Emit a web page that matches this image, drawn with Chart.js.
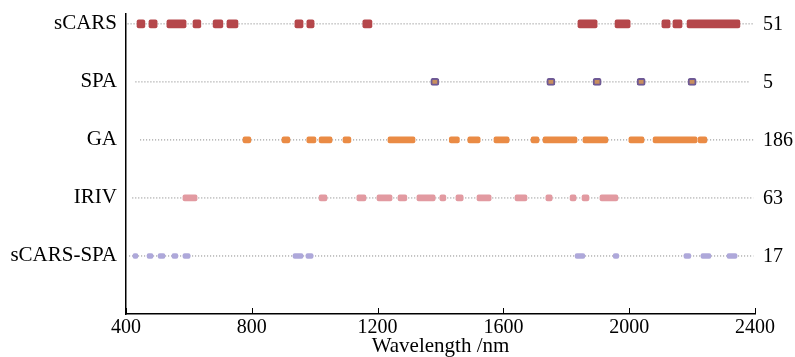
<!DOCTYPE html>
<html>
<head>
<meta charset="utf-8">
<script src="https://cdn.jsdelivr.net/npm/chart.js@4.4.1/dist/chart.umd.min.js"></script>
<style>
  html, body { margin: 0; padding: 0; background: #fff; }
  #wrap { width: 795px; height: 357px; }
</style>
</head>
<body>
<div id="wrap"><canvas id="chSel"></canvas></div>
<script>
// Selected wavelength bands per method (nm)
const methodNames = ['sCARS', 'SPA', 'GA', 'IRIV', 'sCARS-SPA'];
const rowValues = [5, 4, 3, 2, 1];
const counts = [51, 5, 186, 63, 17];

const bandsSCARS = [[435,460],[473,499],[530,591],[613,638],[677,708],[721,756],[937,963],[975,998],
    [1153,1182],[1837,1898],[1955,2003],[2104,2130],[2139,2168],[2184,2352]];
const bandsSPA = [[1369,1395],[1738,1764],[1885,1911],[2025,2051],[2187,2213]];
const bandsGA = [[772,797],[896,921],[975,1004],[1014,1055],[1090,1115],[1233,1319],[1428,1460],
    [1487,1526],[1570,1618],[1688,1713],[1726,1834],[1853,1932],[1999,2047],[2076,2216],[2219,2247]];
const bandsIRIV = [[581,626],[1014,1039],[1134,1163],[1198,1246],[1265,1293],[1325,1383],[1398,1417],
    [1449,1472],[1516,1561],[1637,1675],[1735,1755],[1812,1831],[1850,1872],[1907,1964]];
const bandsSCARSSPA = [[422,438],[467,486],[502,524],[546,565],[581,604],[931,963],[972,995],
    [1828,1859],[1949,1967],[2174,2196],[2228,2260],[2311,2343]];

// dotted baseline span for each row (nm)
const baseStart = [405, 430, 445, 420, 410];
const baseEnd = [2395, 2380, 2395, 2395, 2395];

const xTicks = [400, 800, 1200, 1600, 2000, 2400];

const allBands = [bandsSCARS, bandsSPA, bandsGA, bandsIRIV, bandsSCARSSPA];
const fillColors = ['#b5474b', '#c98f5e', '#ea8b45', '#e29aa1', '#aea8da'];
const edgeColors = ['#b5474b', '#6f5a95', '#ea8b45', '#e29aa1', '#aea8da'];
const edgeWidths = [0, 2, 0, 0, 0];
const thick = [8, 7, 6, 6, 5];

const FONT = "'Liberation Serif', 'Times New Roman', serif";

const datasets = [];
allBands.forEach((bands, i) => {
    datasets.push({
        type: 'bar',
        indexAxis: 'y',
        grouped: false,
        order: 0,
        data: bands.map(b => ({ x: b, y: rowValues[i] })),
        backgroundColor: fillColors[i],
        borderColor: edgeColors[i],
        borderWidth: edgeWidths[i],
        borderSkipped: false,
        borderRadius: 2,
        barThickness: thick[i]
    });
    datasets.push({
        type: 'line',
        order: 1,
        data: [{ x: baseStart[i], y: rowValues[i] }, { x: baseEnd[i], y: rowValues[i] }],
        borderColor: '#7a7a7a',
        borderWidth: 1,
        borderDash: [1, 2],
        pointRadius: 0,
        fill: false
    });
});

// small tick marks pointing into the plot, plus the counts on the right
const extrasPlugin = {
    id: 'extras',
    afterDraw(chart) {
        const ctx = chart.ctx;
        const xs = chart.scales.x, ys = chart.scales.y;
        const area = chart.chartArea;
        ctx.save();
        ctx.strokeStyle = '#000';
        ctx.lineWidth = 1;
        xs.ticks.forEach(t => {
            const px = Math.round(xs.getPixelForValue(t.value)) + 0.5;
            ctx.beginPath();
            ctx.moveTo(px, area.bottom);
            ctx.lineTo(px, area.bottom - 6);
            ctx.stroke();
        });
        ctx.fillStyle = '#000';
        ctx.font = '20px ' + FONT;
        ctx.textAlign = 'left';
        ctx.textBaseline = 'middle';
        counts.forEach((c, i) => {
            ctx.fillText(String(c), area.right + 8, ys.getPixelForValue(rowValues[i]) + 1);
        });
        ctx.restore();
    }
};

new Chart(document.getElementById('chSel'), {
    type: 'bar',
    data: { datasets },
    options: {
        responsive: true,
        maintainAspectRatio: false,
        animation: false,
        layout: { padding: { left: 0, right: 40, top: 14, bottom: 0 } },
        plugins: { legend: { display: false }, tooltip: { enabled: false } },
        scales: {
            x: {
                type: 'linear',
                position: 'bottom',
                offset: false,
                min: 400,
                max: 2400,
                afterBuildTicks: axis => { axis.ticks = xTicks.map(v => ({ value: v })); },
                afterFit: axis => { axis.height = 43; },
                grid: { display: false, drawTicks: false },
                border: { display: true, color: '#000', width: 1.5 },
                ticks: {
                    color: '#000', padding: 2, maxRotation: 0,
                    font: { family: FONT, size: 20 },
                    callback: v => String(v)
                },
                title: {
                    display: true,
                    text: 'Wavelength /nm',
                    color: '#000',
                    padding: { top: 0, bottom: 0 },
                    font: { family: FONT, size: 21, lineHeight: 1 }
                }
            },
            y: {
                type: 'linear',
                position: 'left',
                offset: false,
                min: 0,
                max: 5.17,
                afterBuildTicks: axis => { axis.ticks = rowValues.map(v => ({ value: v })); },
                afterFit: axis => {
                    axis.width = 126;
                    axis.paddingTop = 0;
                    axis.paddingBottom = 0;
                },
                grid: { display: false, drawTicks: false },
                border: { display: true, color: '#000', width: 1.5 },
                ticks: {
                    color: '#000',
                    padding: 9,
                    font: { family: FONT, size: 21 },
                    callback: v => {
                        const k = rowValues.indexOf(v);
                        return k >= 0 ? methodNames[k] : '';
                    }
                }
            }
        }
    },
    plugins: [extrasPlugin]
});
</script>
</body>
</html>
